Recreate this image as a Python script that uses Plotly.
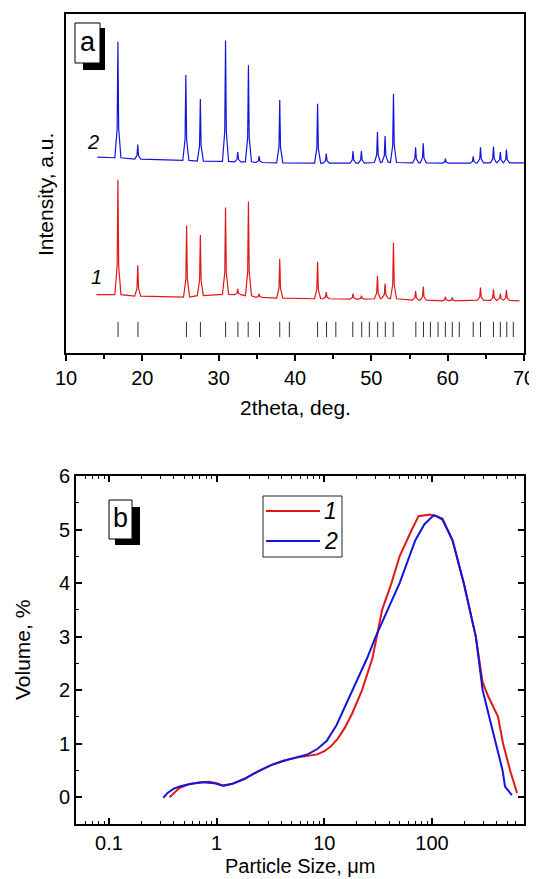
import plotly.graph_objects as go
from plotly.subplots import make_subplots

# the page body keeps an 8px margin, so the figure is drawn 8px in from the corner
OFF = 8
W, H = 537 - OFF, 879 - OFF

# --- panel a: XRD patterns (intensity in arbitrary units, offset stacked) ---
red_start = (14.0, 17.2)
red_end = (69.4, 15.4)
red_peaks = [16.8, 19.4, 25.8, 27.6, 30.9, 32.5, 33.9, 35.3, 38.0, 42.96, 44.1, 47.6,
             48.7, 50.8, 51.8, 52.9, 55.8, 56.8, 59.7, 60.6, 64.3, 66.0, 66.9, 67.7]
red_tops = [51.1, 25.9, 37.6, 34.8, 42.9, 18.9, 44.7, 17.5, 27.8, 26.9, 18.0, 17.5,
            16.9, 22.8, 20.5, 32.5, 18.3, 19.6, 16.6, 16.4, 19.3, 18.8, 17.5, 18.6]
red_feet = [17.2, 16.8, 16.5, 16.9, 17.3, 17.2, 16.9, 16.4, 16.2, 16.0, 16.0, 15.9,
            15.9, 16.0, 16.2, 16.0, 15.6, 15.6, 15.4, 15.4, 15.6, 15.5, 15.6, 15.5]

blue_start = (14.1, 57.8)
blue_end = (70.0, 56.1)
blue_peaks = [16.8, 19.4, 25.7, 27.6, 30.9, 32.5, 33.9, 35.3, 38.0, 42.96, 44.1, 47.6,
              48.7, 50.8, 51.8, 52.9, 55.8, 56.8, 59.7, 63.35, 64.3, 66.0, 66.9, 67.7]
blue_tops = [91.8, 61.5, 82.0, 74.9, 92.2, 59.3, 84.9, 58.1, 74.6, 73.5, 58.8, 59.6,
             59.6, 65.2, 64.0, 76.5, 60.7, 61.9, 57.3, 58.0, 60.7, 60.9, 59.3, 60.0]
blue_feet = [57.6, 57.2, 56.8, 56.6, 56.5, 56.4, 56.4, 56.2, 56.1, 56.0, 56.0, 56.0,
             56.0, 56.2, 56.3, 56.2, 56.1, 56.1, 56.0, 56.0, 56.1, 56.1, 56.2, 56.1]

# reference (phase) line positions, 2theta
ref_lines = [16.82, 19.43, 25.78, 27.61, 30.91, 32.52, 33.87, 35.35, 38.0, 39.26,
             42.96, 44.13, 45.35, 47.57, 48.74, 49.74, 50.83, 51.83, 52.87, 55.83,
             56.83, 57.74, 58.74, 59.70, 60.61, 61.52, 63.35, 64.3, 66.0, 66.9,
             67.74, 68.6]

# --- panel b: particle size distribution ---
size_1 = [0.365, 0.40, 0.45, 0.55, 0.70, 0.85, 1.0, 1.15, 1.4, 1.8, 2.4, 3.2, 4.2,
          5.5, 7.0, 8.6, 10.0, 11.5, 13.4, 15.5, 18.0, 22.4, 28.0, 34.4, 42.0, 50.0,
          65.0, 75.0, 95.0, 110.0, 125.0, 155.0, 197.0, 255.0, 295.0, 330.0, 410.0,
          457.0, 531.0, 580.0, 616.0]
vol_1 = [0.0, 0.08, 0.17, 0.24, 0.28, 0.29, 0.26, 0.21, 0.25, 0.34, 0.48, 0.60, 0.68,
         0.74, 0.77, 0.80, 0.86, 0.95, 1.10, 1.30, 1.55, 2.0, 2.6, 3.5, 4.0, 4.5,
         5.0, 5.25, 5.28, 5.25, 5.18, 4.8, 4.0, 3.0, 2.15, 1.9, 1.5,
         1.0, 0.5, 0.25, 0.08]

size_2 = [0.32, 0.35, 0.40, 0.47, 0.58, 0.75, 0.95, 1.15, 1.4, 1.8, 2.4, 3.2, 4.2,
          5.5, 7.0, 8.6, 10.5, 13.0, 16.0, 20.0, 25.0, 30.0, 39.0, 50.0, 70.0, 85.0,
          104.0, 125.0, 155.0, 197.0, 255.0, 295.0, 340.0, 395.0, 452.0, 476.0, 551.0]
vol_2 = [-0.01, 0.08, 0.16, 0.21, 0.25, 0.28, 0.26, 0.22, 0.25, 0.34, 0.48, 0.60, 0.68,
         0.74, 0.80, 0.90, 1.05, 1.35, 1.75, 2.2, 2.6, 3.0, 3.5, 4.0, 4.8, 5.1,
         5.27, 5.2, 4.8, 4.0, 3.0, 2.0, 1.5, 1.0, 0.5, 0.2, 0.04]

RED = "#e01818"
BLUE = "#1414dc"
FONT = "Liberation Sans, Arial, sans-serif"


def pattern_path(start, end, peaks, tops, feet):
    # foot / shoulder / top / shoulder / foot for every read-off peak
    xs, ys = [start[0]], [start[1]]
    for p, t, b in zip(peaks, tops, feet):
        xs += [p - 0.4, p - 0.1, p, p + 0.1, p + 0.4]
        ys += [b, b + 0.25 * (t - b), t, b + 0.25 * (t - b), b]
    xs.append(end[0])
    ys.append(end[1])
    return xs, ys


# page pixel -> paper coordinates
def px(x):
    return (x - OFF) / W


def py(y):
    return 1 - (y - OFF) / H


fig = make_subplots(rows=2, cols=1)

rx, ry = pattern_path(red_start, red_end, red_peaks, red_tops, red_feet)
bx, by = pattern_path(blue_start, blue_end, blue_peaks, blue_tops, blue_feet)
fig.add_trace(go.Scatter(x=rx, y=ry, mode="lines", line=dict(color=RED, width=1.2),
                         showlegend=False), row=1, col=1)
fig.add_trace(go.Scatter(x=bx, y=by, mode="lines", line=dict(color=BLUE, width=1.2),
                         showlegend=False), row=1, col=1)

lx, ly = [], []
for r in ref_lines:
    lx += [r, r, None]
    ly += [4.7, 9.2, None]
fig.add_trace(go.Scatter(x=lx, y=ly, mode="lines", line=dict(color="#333333", width=1),
                         showlegend=False), row=1, col=1)

fig.add_trace(go.Scatter(x=size_1, y=vol_1, mode="lines", line=dict(color=RED, width=2),
                         showlegend=False), row=2, col=1)
fig.add_trace(go.Scatter(x=size_2, y=vol_2, mode="lines", line=dict(color=BLUE, width=2),
                         showlegend=False), row=2, col=1)

fig.update_layout(
    width=W, height=H,
    margin=dict(l=0, r=0, t=0, b=0, autoexpand=False),
    paper_bgcolor="white", plot_bgcolor="white",
    font=dict(family=FONT, size=20, color="black"),
    xaxis=dict(domain=[px(66), px(524)], range=[10, 70], dtick=10, tick0=10,
               ticks="outside", ticklen=6, tickwidth=1.5, tickcolor="black",
               minor=dict(dtick=5, ticks="outside", ticklen=4, tickwidth=1.5, tickcolor="black"),
               showline=True, linecolor="black", linewidth=2, mirror=True,
               showgrid=False, zeroline=False, automargin=False),
    yaxis=dict(domain=[py(353), py(14)], range=[0, 100], showticklabels=False, ticks="",
               showline=True, linecolor="black", linewidth=2, mirror=True,
               showgrid=False, zeroline=False, automargin=False),
    xaxis2=dict(domain=[px(76), px(524)], type="log", range=[-1.306, 2.854],
                tickvals=[0.1, 1, 10, 100], ticktext=["0.1", "1", "10", "100"],
                ticks="inside", ticklen=6, tickwidth=1.5, tickcolor="black",
                minor=dict(dtick="D1", ticks="inside", ticklen=3, tickwidth=1.2, tickcolor="black"),
                showline=True, linecolor="black", linewidth=2, mirror="allticks",
                showgrid=False, zeroline=False, automargin=False),
    yaxis2=dict(domain=[py(824), py(476)], range=[-0.5, 6], dtick=1, tick0=0,
                ticks="inside", ticklen=6, tickwidth=1.5, tickcolor="black",
                minor=dict(dtick=0.5, ticks="inside", ticklen=3, tickwidth=1.2, tickcolor="black"),
                showline=True, linecolor="black", linewidth=2, mirror="allticks",
                showgrid=False, zeroline=False, automargin=False),
)

shapes = []
# label boxes with drop shadow
for (x0, y0, x1, y1), (sx0, sy0, sx1, sy1) in [((75, 23, 100, 63), (83, 28, 105, 70)),
                                               ((109, 500, 132, 539), (115, 507, 140, 545))]:
    shapes.append(dict(type="rect", xref="paper", yref="paper", x0=px(sx0), x1=px(sx1),
                       y0=py(sy1), y1=py(sy0), fillcolor="black", line=dict(width=0)))
    shapes.append(dict(type="rect", xref="paper", yref="paper", x0=px(x0), x1=px(x1),
                       y0=py(y1), y1=py(y0), fillcolor="white",
                       line=dict(color="black", width=1)))
# legend of panel b
shapes.append(dict(type="rect", xref="paper", yref="paper", x0=px(263), x1=px(342),
                   y0=py(557), y1=py(496), fillcolor="white", line=dict(color="#222", width=1)))
shapes.append(dict(type="line", xref="paper", yref="paper", x0=px(266), x1=px(320),
                   y0=py(511), y1=py(511), line=dict(color=RED, width=2)))
shapes.append(dict(type="line", xref="paper", yref="paper", x0=px(266), x1=px(320),
                   y0=py(541), y1=py(541), line=dict(color=BLUE, width=2)))
fig.update_layout(shapes=shapes)

annotations = [
    dict(text="a", x=px(87.5), y=py(42), font=dict(size=27)),
    dict(text="b", x=px(120.5), y=py(518), font=dict(size=27)),
    dict(text="<i>2</i>", x=px(93), y=py(142), font=dict(size=20)),
    dict(text="<i>1</i>", x=px(96), y=py(277), font=dict(size=20)),
    dict(text="<i>1</i>", x=px(331), y=py(511), font=dict(size=23)),
    dict(text="<i>2</i>", x=px(331), y=py(541), font=dict(size=23)),
    dict(text="Intensity, a.u.", x=px(46), y=py(195), textangle=-90, font=dict(size=21)),
    dict(text="2theta, deg.", x=px(295), y=py(408), font=dict(size=21)),
    dict(text="Volume, %", x=px(22), y=py(650), textangle=-90, font=dict(size=21)),
    dict(text="Particle Size, \u03bcm", x=px(300), y=py(866), font=dict(size=20)),
]
for a in annotations:
    a.update(xref="paper", yref="paper", showarrow=False, xanchor="center", yanchor="middle")
fig.update_layout(annotations=annotations)

fig.write_html("out.html")
